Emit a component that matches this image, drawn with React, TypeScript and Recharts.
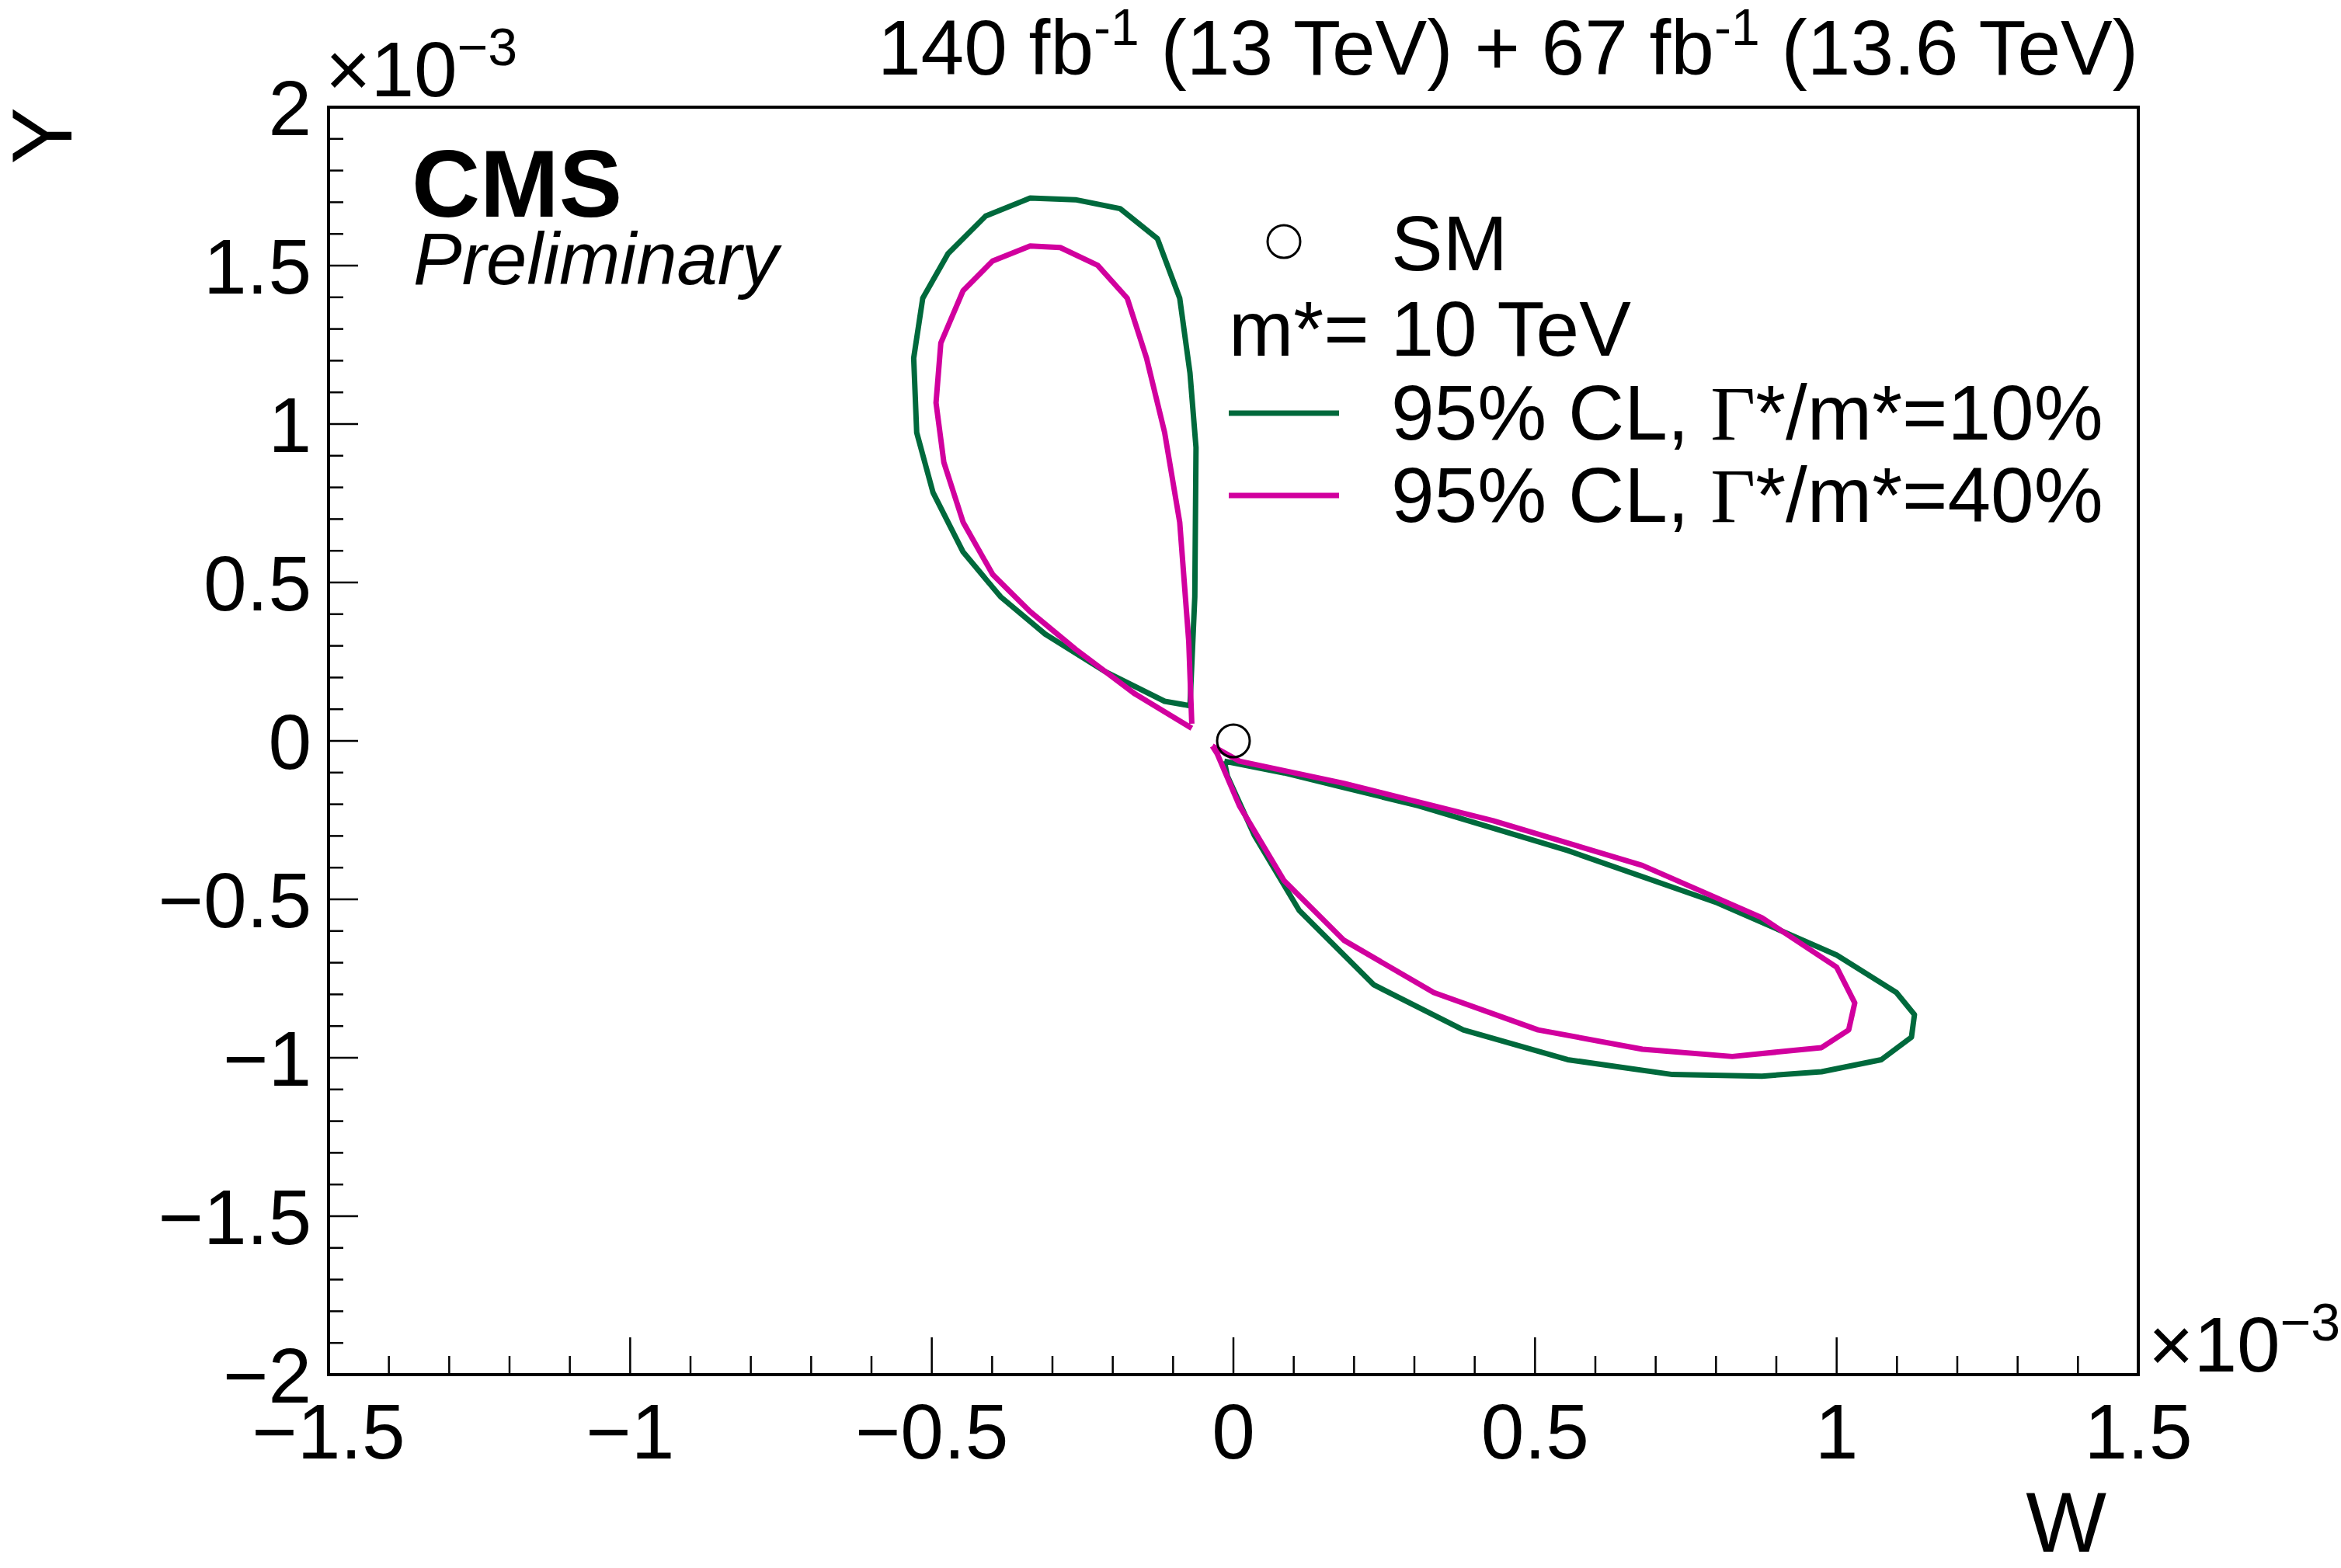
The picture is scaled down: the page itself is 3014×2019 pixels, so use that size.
import React from 'react';
import { ScatterChart, Scatter, XAxis, YAxis } from 'recharts';

// contour points in units of 1e-3
const green10Upper = [
  [-0.072, 0.111], [-0.064, 0.455], [-0.062, 0.926], [-0.072, 1.161], [-0.089, 1.397],
  [-0.126, 1.585], [-0.188, 1.68], [-0.262, 1.708], [-0.337, 1.713], [-0.411, 1.656],
  [-0.473, 1.538], [-0.515, 1.397], [-0.53, 1.208], [-0.525, 0.973], [-0.498, 0.784],
  [-0.448, 0.596], [-0.386, 0.455], [-0.312, 0.337], [-0.213, 0.219], [-0.114, 0.125],
  [-0.072, 0.111],
];
const green10Lower = [
  [-0.015, -0.064], [0.084, -0.101], [0.307, -0.205], [0.554, -0.346], [0.802, -0.511],
  [1.0, -0.676], [1.099, -0.794], [1.129, -0.864], [1.124, -0.935], [1.074, -1.006],
  [0.975, -1.044], [0.876, -1.058], [0.728, -1.053], [0.554, -1.006], [0.381, -0.912],
  [0.233, -0.77], [0.109, -0.535], [0.035, -0.299], [-0.01, -0.111], [-0.015, -0.064],
];
const magenta40Upper = [
  [-0.069, 0.054], [-0.074, 0.313], [-0.089, 0.69], [-0.114, 0.973], [-0.144, 1.208],
  [-0.176, 1.397], [-0.225, 1.501], [-0.287, 1.557], [-0.337, 1.562], [-0.399, 1.515],
  [-0.448, 1.421], [-0.485, 1.256], [-0.493, 1.067], [-0.48, 0.879], [-0.448, 0.69],
  [-0.399, 0.525], [-0.337, 0.408], [-0.262, 0.29], [-0.163, 0.148], [-0.069, 0.04],
];
const magenta40Lower = [
  [-0.035, -0.016], [0.01, -0.064], [0.183, -0.134], [0.431, -0.252], [0.678, -0.393],
  [0.876, -0.558], [1.0, -0.714], [1.03, -0.827], [1.02, -0.912], [0.975, -0.968],
  [0.827, -0.996], [0.678, -0.973], [0.505, -0.912], [0.332, -0.794], [0.183, -0.629],
  [0.084, -0.441], [0.01, -0.205], [-0.027, -0.04], [-0.035, -0.016],
];
const smPoint = [{ x: 0, y: 0 }];

const xMajor = [-1.5, -1, -0.5, 0, 0.5, 1, 1.5];
const yMajor = [-2, -1.5, -1, -0.5, 0, 0.5, 1, 1.5, 2];
const xTicks = Array.from({ length: 31 }, (_, i) => Math.round((-1.5 + i * 0.1) * 10) / 10);
const yTicks = Array.from({ length: 41 }, (_, i) => Math.round((-2 + i * 0.1) * 10) / 10);

const GREEN = '#00693C';
const MAGENTA = '#D1009E';
const FONT = '"Liberation Sans", Arial, sans-serif';
const FS = 100;

const W = 3014;
const H = 2019;
const AX = 60;
const margin = { left: 423 - AX, right: 261, top: 138, bottom: 249 - AX };

const toPts = (a: number[][]) => a.map(([x, y]) => ({ x, y }));
const fmt = (v: number) => (v < 0 ? '\u2212' + String(-v) : String(v));
const isMajor = (v: number, list: number[]) => list.some((m) => Math.abs(m - v) < 1e-6);

const XTick = (p: any) => {
  const v = p.payload.value;
  const major = isMajor(v, xMajor);
  return (
    <g>
      <line x1={p.x} x2={p.x} y1={p.y} y2={p.y - (major ? 48 : 24)} stroke="#000" strokeWidth={2.5} />
      {major && (
        <text x={p.x} y={p.y + 108} textAnchor="middle" fontSize={FS} fontFamily={FONT} fill="#000">
          {fmt(v)}
        </text>
      )}
    </g>
  );
};

const YTick = (p: any) => {
  const v = p.payload.value;
  const major = isMajor(v, yMajor);
  return (
    <g>
      <line x1={p.x} x2={p.x + (major ? 38 : 19)} y1={p.y} y2={p.y} stroke="#000" strokeWidth={2.5} />
      {major && (
        <text x={p.x - 22} y={p.y + 36} textAnchor="end" fontSize={FS} fontFamily={FONT} fill="#000">
          {fmt(v)}
        </text>
      )}
    </g>
  );
};

const noDot = () => <g />;
const smDot = (p: any) => <circle cx={p.cx} cy={p.cy} r={21} fill="none" stroke="#000" strokeWidth={3} />;
const lineStyle = (stroke: string) => ({ stroke, strokeWidth: 7, strokeLinejoin: 'round' as const });

export default function App() {
  const pw = W - 423 - margin.right;
  const ph = H - margin.top - 249;
  return (
    <div style={{ position: 'absolute', left: 0, top: 0, width: W, height: H, background: '#fff' }}>
      <ScatterChart width={W} height={H} margin={margin}>
        <XAxis
          type="number" dataKey="x" domain={[-1.5, 1.5]} ticks={xTicks} interval={0} height={AX}
          allowDataOverflow tickSize={0} tickMargin={0} tick={<XTick />} axisLine={false}
        />
        <YAxis
          type="number" dataKey="y" domain={[-2, 2]} ticks={yTicks} interval={0} width={AX}
          allowDataOverflow tickSize={0} tickMargin={0} tick={<YTick />} axisLine={false}
        />
        <Scatter data={toPts(green10Upper)} line={lineStyle(GREEN)} shape={noDot} isAnimationActive={false} />
        <Scatter data={toPts(green10Lower)} line={lineStyle(GREEN)} shape={noDot} isAnimationActive={false} />
        <Scatter data={toPts(magenta40Upper)} line={lineStyle(MAGENTA)} shape={noDot} isAnimationActive={false} />
        <Scatter data={toPts(magenta40Lower)} line={lineStyle(MAGENTA)} shape={noDot} isAnimationActive={false} />
        <Scatter data={smPoint} shape={smDot} isAnimationActive={false} />
      </ScatterChart>
      <svg width={W} height={H} style={{ position: 'absolute', left: 0, top: 0, pointerEvents: 'none' }} fontFamily={FONT}>
        <rect x={423} y={margin.top} width={pw} height={ph} fill="none" stroke="#000" strokeWidth={4} />
        <text x={419} y={124} fontSize={FS}>×10<tspan dy={-40} fontSize={68}>−3</tspan></text>
        <text x={2766} y={1766} fontSize={FS}>×10<tspan dy={-40} fontSize={68}>−3</tspan></text>
        <text x={2753} y={96} textAnchor="end" fontSize={FS}>
          140 fb<tspan dy={-38} fontSize={66}>-1</tspan><tspan dy={38}> (13 TeV) + 67 fb</tspan>
          <tspan dy={-38} fontSize={66}>-1</tspan><tspan dy={38}> (13.6 TeV)</tspan>
        </text>
        <text x={2712} y={1998} textAnchor="end" fontSize={110}>W</text>
        <text transform="translate(92,138) rotate(-90)" textAnchor="end" fontSize={110}>Y</text>
        <text x={530} y={279} fontSize={122} fontWeight="bold">CMS</text>
        <text x={532} y={366} fontSize={94} fontStyle="italic">Preliminary</text>
        <circle cx={1653} cy={311} r={21} fill="none" stroke="#000" strokeWidth={3} />
        <text x={1791} y={348} fontSize={FS}>SM</text>
        <text x={1582} y={458} fontSize={FS}>m*= 10 TeV</text>
        <line x1={1582} x2={1724} y1={532} y2={532} stroke={GREEN} strokeWidth={7} />
        <text x={1791} y={566} fontSize={FS}>95% CL, <tspan fontFamily='"Liberation Serif", serif'>Γ</tspan>*/m*=10%</text>
        <line x1={1582} x2={1724} y1={638} y2={638} stroke={MAGENTA} strokeWidth={7} />
        <text x={1791} y={672} fontSize={FS}>95% CL, <tspan fontFamily='"Liberation Serif", serif'>Γ</tspan>*/m*=40%</text>
      </svg>
    </div>
  );
}
